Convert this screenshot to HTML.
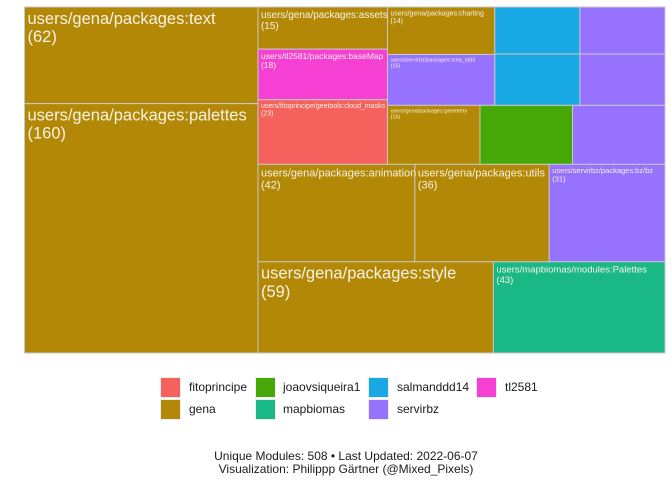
<!DOCTYPE html>
<html><head><meta charset="utf-8">
<style>
html,body{margin:0;padding:0;background:#fff;width:672px;height:480px;overflow:hidden;font-family:"Liberation Sans",sans-serif;}
#chart{position:absolute;left:0;top:0;}
.leg{position:absolute;font-size:12px;color:#1a1a1a;}
.sw{position:absolute;width:19px;height:19px;border:1px solid #eee;}
.cap{position:absolute;left:0;width:692px;text-align:center;font-size:12px;color:#1a1a1a;}
</style></head><body>
<svg id="chart" width="672" height="480"></svg>

<div>
<div class="sw" style="left:160px;top:377px;background:#F5625D"></div><div class="leg" style="left:189px;top:380px">fitoprincipe</div>
<div class="sw" style="left:160px;top:399px;background:#B38806"></div><div class="leg" style="left:189px;top:402px">gena</div>
<div class="sw" style="left:255px;top:377px;background:#45A806"></div><div class="leg" style="left:283px;top:380px">joaovsiqueira1</div>
<div class="sw" style="left:255px;top:399px;background:#19B884"></div><div class="leg" style="left:283px;top:402px">mapbiomas</div>
<div class="sw" style="left:368px;top:377px;background:#18A8E4"></div><div class="leg" style="left:397px;top:380px">salmanddd14</div>
<div class="sw" style="left:368px;top:399px;background:#9672FE"></div><div class="leg" style="left:397px;top:402px">servirbz</div>
<div class="sw" style="left:476px;top:377px;background:#F63FD3"></div><div class="leg" style="left:505px;top:380px">tl2581</div>
</div>
<div class="cap" style="top:449px">Unique Modules: 508 • Last Updated: 2022-06-07</div>
<div class="cap" style="top:462px">Visualization: Philippp Gärtner (@Mixed_Pixels)</div>

<script>
const names = ["users/gena/packages:text","users/gena/packages:palettes","users/gena/packages:assets","users/tl2581/packages:baseMap","users/fitoprincipe/geetools:cloud_masks","users/gena/packages:charting","users/servirbz/packages:sma_std3","","","","","users/gena/packages:geometry","","","users/gena/packages:animation","users/gena/packages:utils","users/servirbz/packages:bz/bz","users/gena/packages:style","users/mapbiomas/modules:Palettes"];
const values = [62,160,15,18,23,14,15,11,12,11,12,15,15,15,42,36,31,59,43];
const owners = ["gena","gena","gena","tl2581","fitoprincipe","gena","servirbz","salmanddd14","salmanddd14","servirbz","servirbz","gena","joaovsiqueira1","servirbz","gena","gena","servirbz","gena","mapbiomas"];
const fontSizes = [16.5,16.5,10,8.5,7,7,5.5,0,0,0,0,5.5,0,0,11,11,7.5,16.5,9.5];
const colors = {fitoprincipe:"#F5625D",gena:"#B38806",joaovsiqueira1:"#45A806",mapbiomas:"#19B884",salmanddd14:"#18A8E4",servirbz:"#9672FE",tl2581:"#F63FD3"};
const tree = {d:"h",c:[{d:"v",c:[0,1]},{d:"v",c:[
  {d:"h",c:[{d:"v",c:[2,3,4]},{d:"v",c:[{d:"h",c:[{d:"v",c:[5,6]},{d:"v",c:[7,8]},{d:"v",c:[9,10]}]},{d:"h",c:[11,12,13]}]}]},
  {d:"h",c:[14,15,16]},{d:"h",c:[17,18]}]}]};
const svg = document.getElementById('chart');
const NS = "http://www.w3.org/2000/svg";
const labelQueue = [];
function total(n){return typeof n==="number"?values[n]:n.c.reduce((s,k)=>s+total(k),0);}
function layout(n,x,y,w,h){
  if(typeof n==="number"){draw(n,x,y,w,h);return;}
  const t=total(n);let off=0;
  n.c.forEach(k=>{const f=total(k)/t;
    if(n.d==="h"){layout(k,x+off*w,y,f*w,h);}else{layout(k,x,y+off*h,w,f*h);}
    off+=f;});
}
function draw(i,x,y,w,h){
  const r=document.createElementNS(NS,"rect");
  r.setAttribute("x",x);r.setAttribute("y",y);r.setAttribute("width",w);r.setAttribute("height",h);
  r.setAttribute("fill",colors[owners[i]]);r.setAttribute("stroke","#c8c8c8");r.setAttribute("stroke-width","1");
  
  
  svg.appendChild(r);
  labelQueue.push([i,x,y]);
}
function drawLabel(i,x,y){
  const fs=fontSizes[i];
  if(!names[i]||fs<=0)return;
  const t=document.createElementNS(NS,"text");
  t.setAttribute("font-size",fs);t.setAttribute("fill","#f7f2e4");
  t.setAttribute("font-family","Liberation Sans, sans-serif");
  const a=document.createElementNS(NS,"tspan");a.setAttribute("x",x+3);a.setAttribute("y",y+2+fs*0.9);a.textContent=names[i];
  const b=document.createElementNS(NS,"tspan");b.setAttribute("x",x+3);b.setAttribute("y",y+2+fs*2.0);b.textContent="("+values[i]+")";
  t.appendChild(a);t.appendChild(b);
  
  
  svg.appendChild(t);
}
layout(tree,24.5,7,640.5,346);
labelQueue.forEach(q=>drawLabel(q[0],q[1],q[2]));
</script>
</body></html>
